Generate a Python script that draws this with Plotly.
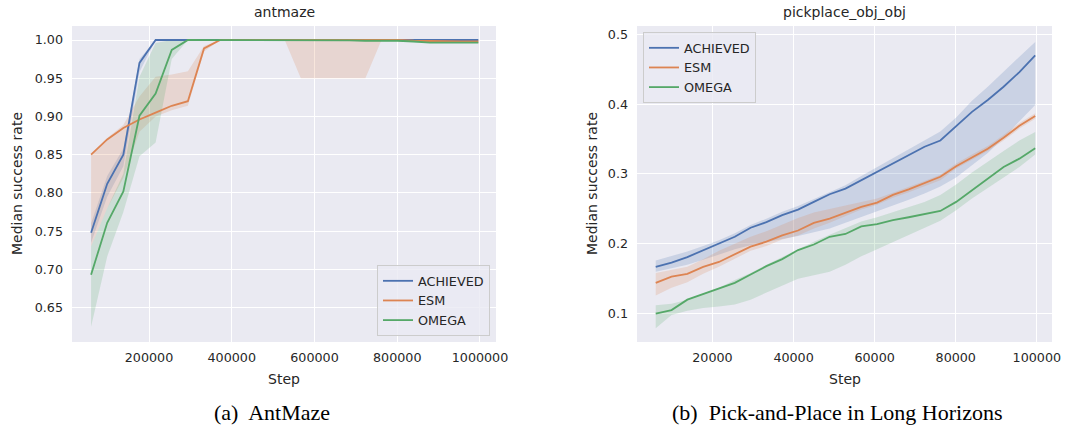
import plotly.graph_objects as go

# ---------------- data: antmaze ----------------
ant_steps = [60000, 99000, 138000, 177000, 216000, 255000, 294000, 333000, 372000, 411000,
             450000, 489000, 528000, 567000, 606000, 645000, 684000, 723000, 762000, 801000,
             840000, 879000, 918000, 957000, 996000]

ant_achieved = [0.748, 0.812, 0.850, 0.970, 1.0, 1.0, 1.0, 1.0, 1.0, 1.0,
                1.0, 1.0, 1.0, 1.0, 1.0, 1.0, 1.0, 1.0, 1.0, 1.0,
                1.0, 1.0, 1.0, 1.0, 1.0]
ant_achieved_lo = [0.735, 0.795, 0.835, 0.958, 1.0, 1.0, 1.0, 1.0, 1.0, 1.0,
                   1.0, 1.0, 1.0, 1.0, 1.0, 1.0, 1.0, 1.0, 1.0, 1.0,
                   1.0, 1.0, 1.0, 1.0, 1.0]
ant_achieved_hi = [0.760, 0.822, 0.858, 0.975, 1.0, 1.0, 1.0, 1.0, 1.0, 1.0,
                   1.0, 1.0, 1.0, 1.0, 1.0, 1.0, 1.0, 1.0, 1.0, 1.0,
                   1.0, 1.0, 1.0, 1.0, 1.0]

ant_esm = [0.850, 0.870, 0.885, 0.896, 0.905, 0.914, 0.920, 0.989, 1.0, 1.0,
           1.0, 1.0, 1.0, 1.0, 1.0, 1.0, 1.0, 1.0, 1.0, 1.0,
           0.999, 0.9985, 0.998, 0.998, 0.998]
ant_esm_lo = [0.730, 0.780, 0.820, 0.880, 0.900, 0.908, 0.914, 0.985, 1.0, 1.0,
              1.0, 1.0, 1.0, 0.950, 0.950, 0.950, 0.950, 0.950, 1.0, 1.0,
              0.998, 0.997, 0.997, 0.997, 0.997]
ant_esm_hi = [0.850, 0.872, 0.889, 0.926, 0.952, 0.955, 0.959, 0.992, 1.0, 1.0,
              1.0, 1.0, 1.0, 1.0, 1.0, 1.0, 1.0, 1.0, 1.0, 1.0,
              1.0, 1.0, 1.0, 1.0, 1.0]

ant_omega = [0.693, 0.761, 0.802, 0.901, 0.930, 0.987, 1.0, 1.0, 1.0, 1.0,
             1.0, 1.0, 1.0, 1.0, 1.0, 1.0, 0.9995, 0.999, 0.999, 0.999,
             0.998, 0.9965, 0.9965, 0.9965, 0.9965]
ant_omega_lo = [0.625, 0.717, 0.775, 0.848, 0.866, 0.975, 1.0, 1.0, 1.0, 1.0,
                1.0, 1.0, 1.0, 1.0, 1.0, 1.0, 0.999, 0.998, 0.998, 0.998,
                0.997, 0.996, 0.996, 0.996, 0.996]
ant_omega_hi = [0.730, 0.780, 0.825, 0.952, 0.996, 1.0, 1.0, 1.0, 1.0, 1.0,
                1.0, 1.0, 1.0, 1.0, 1.0, 1.0, 1.0, 1.0, 1.0, 1.0,
                0.999, 0.997, 0.997, 0.997, 0.997]

# ---------------- data: pickplace_obj_obj ----------------
pp_steps = [6000, 9900, 13800, 17700, 21600, 25500, 29400, 33300, 37200, 41100,
            45000, 48900, 52800, 56700, 60600, 64500, 68400, 72300, 76200, 80100,
            84000, 87900, 91800, 95700, 99600]

pp_achieved = [0.167, 0.173, 0.181, 0.191, 0.200, 0.210, 0.223, 0.231, 0.241, 0.249,
               0.260, 0.271, 0.279, 0.291, 0.303, 0.315, 0.327, 0.339, 0.348, 0.368,
               0.389, 0.406, 0.425, 0.446, 0.470]
pp_achieved_lo = [0.160, 0.165, 0.170, 0.177, 0.185, 0.192, 0.198, 0.203, 0.207, 0.211,
                  0.216, 0.222, 0.230, 0.238, 0.246, 0.254, 0.263, 0.272, 0.282, 0.295,
                  0.312, 0.330, 0.352, 0.375, 0.399]
pp_achieved_hi = [0.176, 0.182, 0.189, 0.197, 0.205, 0.215, 0.227, 0.236, 0.246, 0.254,
                  0.264, 0.275, 0.284, 0.297, 0.310, 0.322, 0.335, 0.348, 0.361, 0.381,
                  0.405, 0.425, 0.447, 0.468, 0.489]

pp_esm = [0.144, 0.153, 0.157, 0.167, 0.174, 0.185, 0.196, 0.203, 0.212, 0.219,
          0.230, 0.236, 0.245, 0.253, 0.259, 0.270, 0.278, 0.287, 0.296, 0.311,
          0.323, 0.336, 0.352, 0.369, 0.383]
pp_esm_lo = [0.126, 0.137, 0.145, 0.157, 0.167, 0.178, 0.190, 0.197, 0.206, 0.212,
             0.222, 0.230, 0.240, 0.249, 0.256, 0.266, 0.274, 0.283, 0.291, 0.308,
             0.320, 0.333, 0.348, 0.365, 0.379]
pp_esm_hi = [0.158, 0.162, 0.167, 0.178, 0.190, 0.200, 0.210, 0.218, 0.228, 0.237,
             0.245, 0.250, 0.256, 0.261, 0.265, 0.273, 0.281, 0.290, 0.299, 0.315,
             0.328, 0.340, 0.356, 0.373, 0.387]

pp_omega = [0.100, 0.105, 0.120, 0.128, 0.136, 0.144, 0.156, 0.168, 0.178, 0.191,
            0.199, 0.210, 0.214, 0.225, 0.228, 0.234, 0.238, 0.242, 0.247, 0.260,
            0.277, 0.294, 0.310, 0.322, 0.337]
pp_omega_lo = [0.079, 0.098, 0.104, 0.108, 0.110, 0.113, 0.120, 0.130, 0.140, 0.150,
               0.155, 0.160, 0.170, 0.182, 0.192, 0.202, 0.212, 0.222, 0.233, 0.248,
               0.265, 0.280, 0.295, 0.310, 0.328]
pp_omega_hi = [0.112, 0.114, 0.120, 0.128, 0.137, 0.148, 0.158, 0.170, 0.181, 0.193,
               0.203, 0.213, 0.222, 0.232, 0.238, 0.245, 0.252, 0.260, 0.270, 0.285,
               0.302, 0.318, 0.333, 0.348, 0.360]

series_names = ["ACHIEVED", "ESM", "OMEGA"]
ant_x_ticks = [200000, 400000, 600000, 800000, 1000000]
ant_y_ticks = [0.65, 0.70, 0.75, 0.80, 0.85, 0.90, 0.95, 1.00]
pp_x_ticks = [20000, 40000, 60000, 80000, 100000]
pp_y_ticks = [0.1, 0.2, 0.3, 0.4, 0.5]

# ---------------- styles ----------------
colors = {"ACHIEVED": (76, 114, 176), "ESM": (221, 132, 82), "OMEGA": (85, 168, 104)}
W, H = 1073, 425
BG = "#EAEAF2"
TXT = "#262626"
FONT = "DejaVu Sans"

fig = go.Figure()

panels = [
    ("x", "y", "legend", ant_steps,
     [(ant_achieved, ant_achieved_lo, ant_achieved_hi),
      (ant_esm, ant_esm_lo, ant_esm_hi),
      (ant_omega, ant_omega_lo, ant_omega_hi)]),
    ("x2", "y2", "legend2", pp_steps,
     [(pp_achieved, pp_achieved_lo, pp_achieved_hi),
      (pp_esm, pp_esm_lo, pp_esm_hi),
      (pp_omega, pp_omega_lo, pp_omega_hi)]),
]

for xa, ya, leg, xs, data in panels:
    # bands
    for name, (mid, lo, hi) in zip(series_names, data):
        r, g, b = colors[name]
        fig.add_trace(go.Scatter(x=xs, y=lo, xaxis=xa, yaxis=ya, mode="lines",
                                 line=dict(width=0), showlegend=False, hoverinfo="skip"))
        fig.add_trace(go.Scatter(x=xs, y=hi, xaxis=xa, yaxis=ya, mode="lines",
                                 line=dict(width=0), fill="tonexty",
                                 fillcolor=f"rgba({r},{g},{b},0.2)",
                                 showlegend=False, hoverinfo="skip"))
    # lines
    for name, (mid, lo, hi) in zip(series_names, data):
        r, g, b = colors[name]
        fig.add_trace(go.Scatter(x=xs, y=mid, xaxis=xa, yaxis=ya, mode="lines",
                                 name=name, legend=leg,
                                 line=dict(color=f"rgb({r},{g},{b})", width=1.8)))

# geometry (pixels)
L1, R1 = 72, 496
L2, R2 = 637, 1052
TOP, BOT = 26, 342

def px(v):
    return v / W

def py(v):
    return 1 - v / H

axis_common = dict(showgrid=True, gridcolor="white", gridwidth=1.2, zeroline=False,
                   showline=False, ticks="", automargin=False,
                   tickfont=dict(family=FONT, size=12.7, color=TXT))

leg_common = dict(bgcolor="rgba(234,234,242,0.8)", bordercolor="#CCCCCC", borderwidth=1,
                  font=dict(family=FONT, size=12.8, color=TXT), tracegroupgap=0,
                  traceorder="normal")

fig.update_layout(
    width=W, height=H, margin=dict(l=0, r=0, t=0, b=0, autoexpand=False),
    paper_bgcolor="white", plot_bgcolor=BG,
    font=dict(family=FONT, color=TXT),
    xaxis=dict(domain=[px(L1), px(R1)], range=[13900, 1038700], anchor="y",
               tickvals=ant_x_ticks, ticktext=[str(v) for v in ant_x_ticks],
               ticklabelstandoff=6, **axis_common),
    yaxis=dict(domain=[py(BOT), py(TOP)], range=[0.6051, 1.0183], anchor="x",
               tickvals=ant_y_ticks, ticktext=[f"{v:.2f}" for v in ant_y_ticks],
               ticklabelstandoff=8, **axis_common),
    xaxis2=dict(domain=[px(L2), px(R2)], range=[1380, 103740], anchor="y2",
                tickvals=pp_x_ticks, ticktext=[str(v) for v in pp_x_ticks],
                ticklabelstandoff=6, **axis_common),
    yaxis2=dict(domain=[py(BOT), py(TOP)], range=[0.0593, 0.512], anchor="x2",
                tickvals=pp_y_ticks, ticktext=[f"{v:.1f}" for v in pp_y_ticks],
                ticklabelstandoff=8, **axis_common),
    legend=dict(x=px(490), y=py(336), xanchor="right", yanchor="bottom", **leg_common),
    legend2=dict(x=px(643), y=py(32), xanchor="left", yanchor="top", **leg_common),
    showlegend=True,
)

ann = []
def add_text(text, x, y, size, angle=0, family=FONT):
    ann.append(dict(text=text, x=px(x), y=py(y), xref="paper", yref="paper",
                    showarrow=False, textangle=angle, xanchor="center", yanchor="middle",
                    font=dict(family=family, size=size, color=TXT if family == FONT else "black")))

add_text("antmaze", (L1 + R1) / 2, 12, 14)
add_text("pickplace_obj_obj", (L2 + R2) / 2, 12, 14)
add_text("Step", (L1 + R1) / 2, 379, 14)
add_text("Step", (L2 + R2) / 2, 379, 14)
add_text("Median success rate", 17, (TOP + BOT) / 2, 14, angle=-90)
add_text("Median success rate", 592, (TOP + BOT) / 2, 14, angle=-90)
add_text("(a)  AntMaze", 272, 412, 22, family="Liberation Serif")
add_text("(b)  Pick-and-Place in Long Horizons", 837, 412, 22, family="Liberation Serif")
fig.update_layout(annotations=ann)

fig.write_html("out.html")
